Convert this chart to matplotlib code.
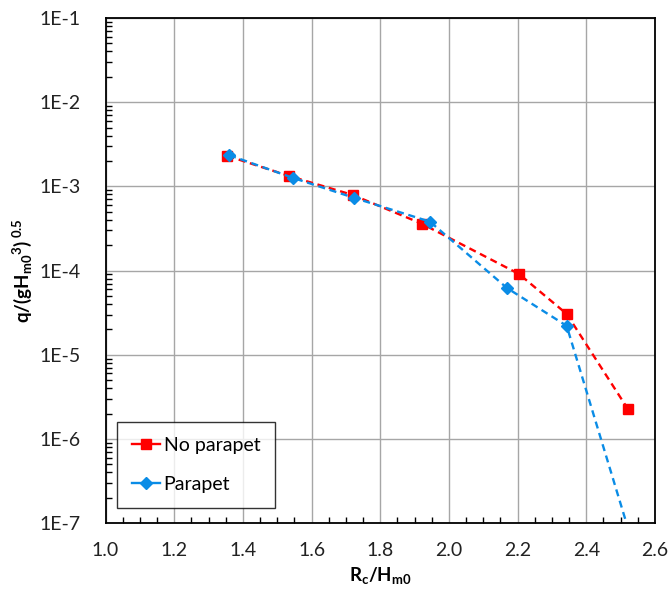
import numpy as np
import matplotlib
matplotlib.use('Agg')
import matplotlib.pyplot as plt
from matplotlib.ticker import MultipleLocator, FixedLocator, LogLocator, NullFormatter

plt.rcParams['font.family'] = ['Lato', 'DejaVu Sans']
plt.rcParams['mathtext.fontset'] = 'custom'
plt.rcParams['mathtext.rm'] = 'Lato'
plt.rcParams['mathtext.bf'] = 'Lato:bold'
plt.rcParams['mathtext.it'] = 'Lato:italic'

# data
x_no_parapet = [1.355, 1.534, 1.720, 1.921, 2.204, 2.343, 2.521]
q_no_parapet = [2.3e-3, 1.33e-3, 7.9e-4, 3.6e-4, 9.1e-5, 3.05e-5, 2.27e-6]

x_parapet = [1.360, 1.546, 1.724, 1.945, 2.169, 2.343, 2.525]
q_parapet = [2.35e-3, 1.26e-3, 7.3e-4, 3.8e-4, 6.2e-5, 2.2e-5, 7.8e-8]

x_ticks = [1.0, 1.2, 1.4, 1.6, 1.8, 2.0, 2.2, 2.4, 2.6]
y_ticks = [1e-7, 1e-6, 1e-5, 1e-4, 1e-3, 1e-2, 1e-1]
y_labels = ['1E-7', '1E-6', '1E-5', '1E-4', '1E-3', '1E-2', '1E-1']

red = '#FF0000'
blue = '#0A8CE6'

fig = plt.figure(figsize=(6.7, 5.94), dpi=100)
ax = fig.add_axes([0.1575, 0.1195, 0.82, 0.8502])

ax.plot(x_no_parapet, q_no_parapet, color=red, ls=(0, (3, 2)), lw=1.7,
        marker='s', ms=7.5, label='No parapet', zorder=3)
ax.plot(x_parapet, q_parapet, color=blue, ls=(0, (3, 2)), lw=1.7,
        marker='D', ms=6.5, label='Parapet', zorder=4)

ax.set_yscale('log')
ax.set_xlim(1.0, 2.6)
ax.set_ylim(1e-7, 1e-1)

ax.set_xticks(x_ticks)
ax.set_xticklabels(['%.1f' % v for v in x_ticks])
ax.xaxis.set_minor_locator(MultipleLocator(0.05))

ax.yaxis.set_major_locator(FixedLocator(y_ticks))
ax.set_yticklabels(y_labels)
ax.yaxis.set_minor_locator(LogLocator(base=10, subs=np.arange(2, 10)))
ax.yaxis.set_minor_formatter(NullFormatter())

ax.tick_params(axis='both', which='major', direction='in', length=0,
               labelsize=14, colors='#222222')
ax.tick_params(axis='y', which='major', pad=18)
ax.tick_params(axis='x', which='major', pad=14)
ax.tick_params(axis='both', which='minor', direction='in', length=4,
               width=1, color='black')

ax.grid(True, which='major', color='#A6A6A6', lw=1.0)
for s in ax.spines.values():
    s.set_linewidth(1.3)
    s.set_color('black')

ax.set_xlabel(r'$\mathbf{R_c/H_{m0}}$', fontsize=13.5, labelpad=4)
ax.set_ylabel(r'$\mathbf{q/(gH_{m0}{}^{3})^{\ 0.5}}$', fontsize=13.5, labelpad=4)

leg = ax.legend(loc='lower left', bbox_to_anchor=(0.021, 0.03), fontsize=14,
                frameon=True, fancybox=False, edgecolor='black',
                borderpad=0.75, labelspacing=1.15, handlelength=1.45,
                handletextpad=0.2, borderaxespad=0)
leg.get_frame().set_linewidth(1.0)
for h in leg.get_lines():
    h.set_linestyle('-')

fig.savefig('out.png', dpi=100)
